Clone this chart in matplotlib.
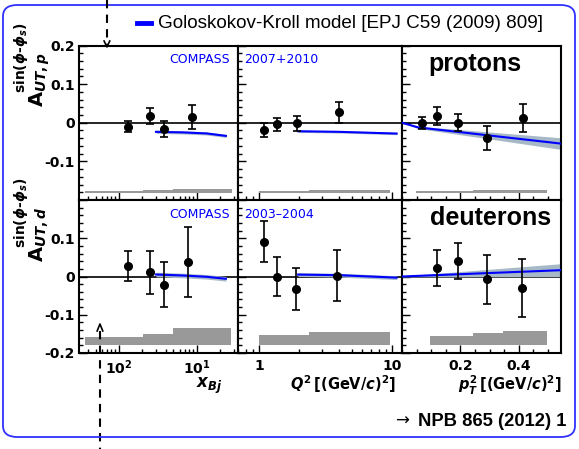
import matplotlib
matplotlib.use("Agg")
import matplotlib.pyplot as plt
import numpy as np
from matplotlib.lines import Line2D
from matplotlib.patches import FancyBboxPatch
from matplotlib.ticker import LogLocator, NullFormatter, MultipleLocator
from matplotlib.transforms import blended_transform_factory

# ---- data ----
# protons, x_Bj
p_x_xbj = [0.0130, 0.0252, 0.0381, 0.0871]
p_y_xbj = [-0.010, 0.0175, -0.0157, 0.0141]
p_e_xbj = [0.015, 0.021, 0.020, 0.031]
# protons, Q^2
p_x_q2 = [1.085, 1.367, 1.923, 4.0]
p_y_q2 = [-0.019, -0.004, -0.001, 0.027]
p_e_q2 = [0.0175, 0.0175, 0.0196, 0.0266]
# protons, pT^2
p_x_pt = [0.069, 0.119, 0.192, 0.293, 0.414]
p_y_pt = [-0.001, 0.0167, 0.0, -0.039, 0.0115]
p_e_pt = [0.016, 0.0235, 0.0218, 0.031, 0.036]

# deuterons, x_Bj
d_x_xbj = [0.0129, 0.0249, 0.0378, 0.0773]
d_y_xbj = [0.0276, 0.011, -0.0214, 0.038]
d_e_xbj = [0.0395, 0.056, 0.0594, 0.0917]
# deuterons, Q^2
d_x_q2 = [1.085, 1.36, 1.90, 3.89]
d_y_q2 = [0.0904, 0.0, -0.0336, 0.0026]
d_e_q2 = [0.0535, 0.050, 0.055, 0.066]
# deuterons, pT^2
d_x_pt = [0.120, 0.191, 0.2916, 0.4127]
d_y_pt = [0.0233, 0.0406, -0.0078, -0.031]
d_e_pt = [0.047, 0.046, 0.0646, 0.0758]

# Goloskokov-Kroll model curves (centre, half width of band)
gk_p_xbj_x = [0.0298, 0.0665, 0.133, 0.235]
gk_p_xbj_y = [-0.0235, -0.025, -0.0277, -0.034]
gk_p_xbj_w = [0.004, 0.004, 0.004, 0.004]
gk_p_q2_x = [1.97, 4.0, 10.9]
gk_p_q2_y = [-0.022, -0.0235, -0.028]
gk_p_q2_w = [0.003, 0.003, 0.003]
gk_p_pt_x = [0.0, 0.055, 0.545]
gk_p_pt_y = [0.0, -0.012, -0.054]
gk_p_pt_w = [0.0, 0.003, 0.015]

gk_d_xbj_x = [0.0298, 0.0665, 0.133, 0.235]
gk_d_xbj_y = [0.0052, 0.0026, -0.0008, -0.006]
gk_d_xbj_w = [0.006, 0.006, 0.006, 0.006]
gk_d_q2_x = [1.97, 4.0, 10.9]
gk_d_q2_y = [0.005, 0.0035, -0.003]
gk_d_q2_w = [0.005, 0.005, 0.005]
gk_d_pt_x = [0.0, 0.545]
gk_d_pt_y = [0.0, 0.0165]
gk_d_pt_w = [0.001, 0.017]

# systematic uncertainty bands (bin edges, heights above base)
p_sys_base = -0.183
p_sys_xbj_edges = [0.0037, 0.0203, 0.0492, 0.28]
p_sys_xbj_h = [0.007, 0.009, 0.011]
p_sys_q2_edges = [1.0, 2.38, 9.7]
p_sys_q2_h = [0.006, 0.008]
p_sys_pt_edges = [0.047, 0.244, 0.497]
p_sys_pt_h = [0.006, 0.009]

d_sys_base = -0.178
d_sys_xbj_edges = [0.0037, 0.0203, 0.0492, 0.273]
d_sys_xbj_h = [0.019, 0.028, 0.043]
d_sys_q2_edges = [1.0, 2.38, 9.7]
d_sys_q2_h = [0.026, 0.032]
d_sys_pt_edges = [0.096, 0.245, 0.345, 0.497]
d_sys_pt_h = [0.023, 0.030, 0.036]

# kinematic-limit markers in x_Bj
xbj_limit_p = 0.0070
xbj_limit_d = 0.0057

xlims = [(0.00307, 0.336), (0.695, 11.96), (0.0, 0.545)]
ylim = (-0.2, 0.2)

plt.rcParams['font.family'] = 'DejaVu Sans'
plt.rcParams['mathtext.fontset'] = 'custom'
plt.rcParams['mathtext.rm'] = 'DejaVu Sans:bold'
plt.rcParams['mathtext.bf'] = 'DejaVu Sans:bold'
plt.rcParams['mathtext.it'] = 'DejaVu Sans:bold:italic'

W, H = 579, 449
fig = plt.figure(figsize=(W / 100, H / 100), dpi=100)


def fx(px):
    return px / W


def fy(py):
    return 1 - py / H


col_px = [(79, 238), (238, 402), (402, 561)]
row_px = [(45.5, 200), (200, 353)]

axes = []
for r, (top, bot) in enumerate(row_px):
    row = []
    for c, (left, right) in enumerate(col_px):
        ax = fig.add_axes([fx(left), fy(bot), fx(right - left), (bot - top) / H])
        row.append(ax)
    axes.append(row)


def draw_panel(ax, x, y, e, gx, gy, gw, edges, heights, base):
    """Data points, model band and systematic bars for one panel."""
    ax.axhline(0, color='black', lw=1.2, zorder=1)
    lo = np.array(gy) - np.array(gw)
    hi = np.array(gy) + np.array(gw)
    ax.fill_between(gx, lo, hi, color='#a7b8c6', lw=0, zorder=2)
    ax.plot(gx, gy, color='#0000ff', lw=1.5, zorder=3)
    ax.fill_between(edges, base, base + np.append(heights, heights[-1]),
                    step='post', color='#999999', lw=0, zorder=2)
    ax.errorbar(x, y, yerr=e, fmt='o', color='black', ms=5.5, lw=1.2,
                capsize=3, capthick=1.2, zorder=4)


draw_panel(axes[0][0], p_x_xbj, p_y_xbj, p_e_xbj, gk_p_xbj_x, gk_p_xbj_y, gk_p_xbj_w,
           p_sys_xbj_edges, p_sys_xbj_h, p_sys_base)
draw_panel(axes[0][1], p_x_q2, p_y_q2, p_e_q2, gk_p_q2_x, gk_p_q2_y, gk_p_q2_w,
           p_sys_q2_edges, p_sys_q2_h, p_sys_base)
draw_panel(axes[0][2], p_x_pt, p_y_pt, p_e_pt, gk_p_pt_x, gk_p_pt_y, gk_p_pt_w,
           p_sys_pt_edges, p_sys_pt_h, p_sys_base)
draw_panel(axes[1][0], d_x_xbj, d_y_xbj, d_e_xbj, gk_d_xbj_x, gk_d_xbj_y, gk_d_xbj_w,
           d_sys_xbj_edges, d_sys_xbj_h, d_sys_base)
draw_panel(axes[1][1], d_x_q2, d_y_q2, d_e_q2, gk_d_q2_x, gk_d_q2_y, gk_d_q2_w,
           d_sys_q2_edges, d_sys_q2_h, d_sys_base)
draw_panel(axes[1][2], d_x_pt, d_y_pt, d_e_pt, gk_d_pt_x, gk_d_pt_y, gk_d_pt_w,
           d_sys_pt_edges, d_sys_pt_h, d_sys_base)

for r in range(2):
    for c in range(3):
        ax = axes[r][c]
        ax.set_xlim(*xlims[c])
        ax.set_ylim(*ylim)
        for s in ax.spines.values():
            s.set_linewidth(1.5)
        ax.tick_params(which='both', direction='in', top=False, right=False,
                       labelsize=10, width=1.0)
        ax.tick_params(which='major', length=6)
        ax.tick_params(which='minor', length=3)
        ax.tick_params(axis='x', pad=4)
        ax.tick_params(axis='y', pad=3)
        ax.yaxis.set_major_locator(MultipleLocator(0.1))
        ax.yaxis.set_minor_locator(MultipleLocator(0.02))
        if c == 0:
            ax.set_yticks([-0.2, -0.1, 0, 0.1, 0.2])
            if r == 0:
                ax.set_yticklabels(['', '-0.1', '0', '0.1', '0.2'], fontweight='bold')
            else:
                ax.set_yticklabels(['-0.2', '-0.1', '0', '0.1', ''], fontweight='bold')
        else:
            ax.set_yticklabels([])
        if c == 0:
            ax.set_xscale('log')
            ax.set_xticks([0.01, 0.1])
            ax.set_xticklabels(['10$^{2}$', '10$^{1}$'], fontweight='bold')
            ax.xaxis.set_minor_locator(LogLocator(subs=np.arange(2, 10)))
            ax.xaxis.set_minor_formatter(NullFormatter())
        elif c == 1:
            ax.set_xscale('log')
            ax.set_xticks([1, 10])
            ax.set_xticklabels(['1', '10'], fontweight='bold')
            ax.xaxis.set_minor_locator(LogLocator(subs=np.arange(2, 10)))
            ax.xaxis.set_minor_formatter(NullFormatter())
        else:
            ax.set_xticks([0.2, 0.4])
            ax.set_xticklabels(['0.2', '0.4'], fontweight='bold')
            ax.xaxis.set_minor_locator(MultipleLocator(0.05))
        if r == 0:
            ax.tick_params(axis='x', which='both', labelbottom=False)

# panel texts
axes[0][0].text(0.95, 0.95, 'COMPASS', transform=axes[0][0].transAxes, color='#0000ff',
                fontsize=9, ha='right', va='top')
axes[0][1].text(0.04, 0.95, '2007+2010', transform=axes[0][1].transAxes, color='#0000ff',
                fontsize=9, ha='left', va='top')
axes[1][0].text(0.95, 0.95, 'COMPASS', transform=axes[1][0].transAxes, color='#0000ff',
                fontsize=9, ha='right', va='top')
axes[1][1].text(0.04, 0.95, '2003\u20132004', transform=axes[1][1].transAxes, color='#0000ff',
                fontsize=9, ha='left', va='top')
axes[0][2].text(0.46, 0.88, 'protons', transform=axes[0][2].transAxes,
                family='Liberation Sans', fontweight='bold', fontsize=18, ha='center', va='center')
axes[1][2].text(0.56, 0.88, 'deuterons', transform=axes[1][2].transAxes,
                family='Liberation Sans', fontweight='bold', fontsize=18, ha='center', va='center')

# y titles: A with subscript, and a smaller superscript stacked above the subscript
for name, base_y in (('p', 107), ('d', 262)):
    fig.text(fx(44), fy(base_y), r'$\mathrm{A}_{UT,%s}$' % name, rotation=90,
             rotation_mode='anchor', ha='left', va='baseline', fontsize=14)
    fig.text(fx(24.5), fy(base_y - 14), r'sin($\phi$-$\phi_{s}$)', rotation=90,
             rotation_mode='anchor', ha='left', va='baseline', fontsize=10, fontweight='bold')

# x titles
fig.text(fx(222), fy(386), r'$x_{Bj}$', ha='right', va='center', fontsize=12)
fig.text(fx(396), fy(384), r'$Q^{2}\,$[(GeV/$c$)$^{2}$]', ha='right', va='center',
         fontsize=10.5, fontweight='bold')
fig.text(fx(562), fy(385), r'$p_{T}^{2}\,$[(GeV/$c$)$^{2}$]', ha='right', va='center',
         fontsize=10.5, fontweight='bold')

# legend
fig.add_artist(Line2D([fx(137), fx(151)], [fy(23), fy(23)], color='#0000ff', lw=3.5))
fig.text(fx(158), fy(24), 'Goloskokov-Kroll model [EPJ C59 (2009) 809]', family='Liberation Sans',
         fontsize=13.6, ha='left', va='center')

# reference
fig.text(fx(566), fy(421), 'NPB 865 (2012) 1', family='Liberation Sans',
         fontweight='bold', fontsize=13.2, ha='right', va='center')
fig.text(fx(409), fy(421), '\u2192', fontsize=12, ha='right', va='center')

# frame
fig.add_artist(FancyBboxPatch((fx(3), fy(437)), fx(572), (437 - 5) / H,
                              boxstyle='round,pad=0,rounding_size=0.025',
                              transform=fig.transFigure, fc='none', ec='#3030ff', lw=1.3))

# kinematic-limit markers
tp = blended_transform_factory(axes[0][0].transData, fig.transFigure)
fig.add_artist(Line2D([xbj_limit_p, xbj_limit_p], [1.0, fy(47)], transform=tp,
                      color='black', lw=1.5, ls=(0, (4, 3))))
fig.add_artist(Line2D([xbj_limit_p * 0.92, xbj_limit_p, xbj_limit_p / 0.92],
                      [fy(41), fy(47), fy(41)], transform=tp, color='black', lw=1.2))
td = blended_transform_factory(axes[1][0].transData, fig.transFigure)
fig.add_artist(Line2D([xbj_limit_d, xbj_limit_d], [fy(331), 0.0], transform=td,
                      color='black', lw=1.5, ls=(0, (4, 3)), zorder=0.5))
fig.add_artist(Line2D([xbj_limit_d * 0.92, xbj_limit_d, xbj_limit_d / 0.92],
                      [fy(331), fy(324), fy(331)], transform=td, color='black', lw=1.2))

fig.savefig('out.png', dpi=100)
